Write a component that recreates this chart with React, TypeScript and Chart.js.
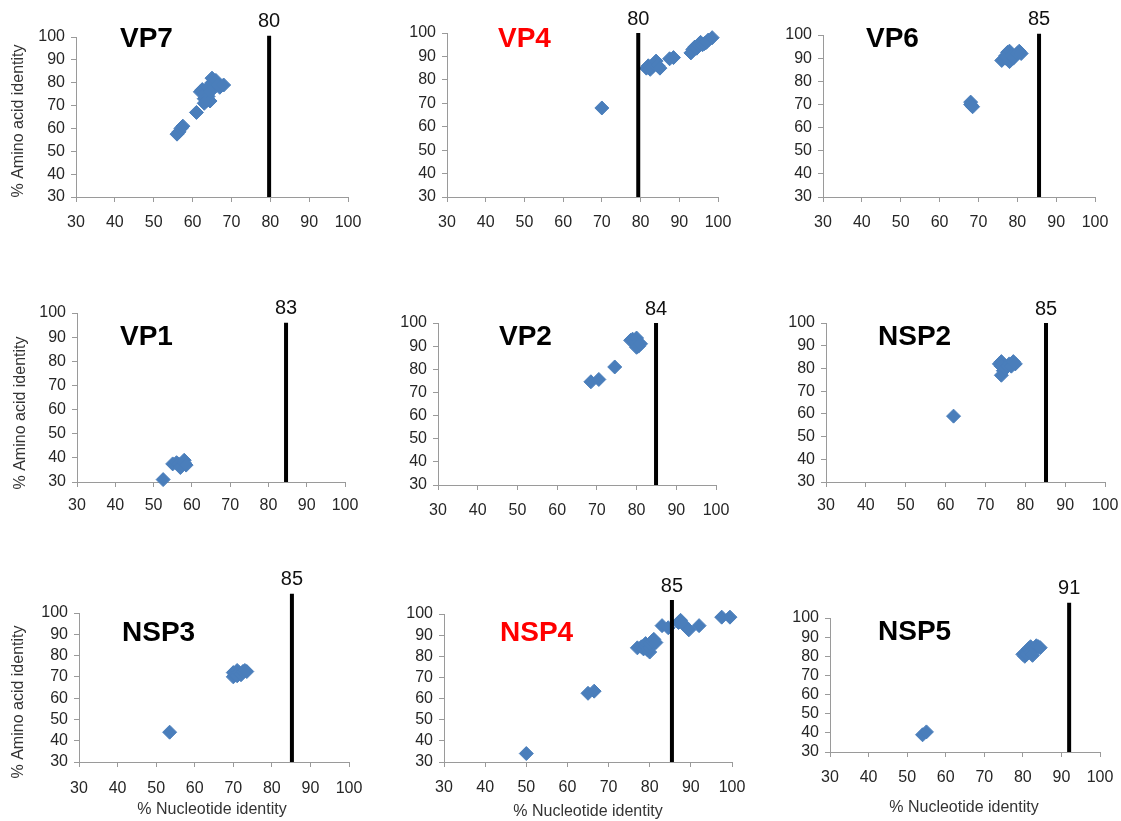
import React, { useEffect, useRef } from "react";
import { Chart, registerables } from "chart.js";

Chart.register(...registerables);

const FONT = '"Liberation Sans", Arial, Helvetica, sans-serif';

// ---- data: % nucleotide identity (x) and % amino acid identity (y) ----
const VP7_NT = [56, 56.5, 57, 57.5, 61, 62, 62.5, 63, 63, 63.5, 64, 64, 64.5, 65, 65, 65.5, 66, 66.5, 67, 68, 63, 64.5];
const VP7_AA = [57.5, 58.5, 60, 61, 67, 76, 77, 75, 73, 72, 78, 74, 72, 80, 82, 79, 81, 79, 78, 79, 71, 76];

const VP4_NT = [70, 81.5, 82, 82.5, 83, 83.5, 84, 84.5, 85, 87.5, 88.5, 93, 93.5, 94, 94.5, 95, 95.5, 96, 96.5, 97, 97.5, 98.5];
const VP4_AA = [68, 85, 86, 84.5, 85.5, 86.5, 88, 86, 85, 89, 89.5, 91.5, 93, 94, 93.5, 95, 96, 95, 95.5, 96, 97, 98];

const VP6_NT = [68, 68, 68.5, 76, 77, 77, 77.5, 78, 78, 78.5, 79, 80, 80.5, 81];
const VP6_AA = [71, 70, 69, 89, 90, 91, 92.5, 93, 88.5, 91, 90, 92, 93, 92];

const VP1_NT = [52.5, 55, 56, 56.5, 57, 57, 58, 58, 58.5];
const VP1_AA = [31, 37.5, 38, 37.5, 37, 36, 38, 39, 37];

const VP2_NT = [68.5, 70.5, 74.5, 78.5, 79, 79.5, 79.5, 80, 80, 80.5, 80, 81];
const VP2_AA = [74.6, 75.6, 81, 92.5, 93, 92, 91.5, 93.5, 91, 90, 89.5, 91];

const NSP2_NT = [62, 73.5, 74, 74, 74, 74.5, 75, 75.5, 76, 76.5, 77, 77.5];
const NSP2_AA = [59, 82, 83, 81, 77, 79, 80, 81, 82, 81, 83, 82];

const NSP3_NT = [53.5, 70, 70, 70.5, 71, 71, 71.5, 72, 72.5, 73, 73.5];
const NSP3_AA = [44, 70, 72, 71, 73, 70.5, 72, 71, 72.5, 73, 72.5];

const NSP4_NT = [50, 65, 66.5, 77, 78, 78.5, 79, 79, 79.5, 80, 80, 80, 80.5, 81, 81.5, 83, 84.5, 87, 87.5, 88, 89.5, 92, 97.5, 99.5];
const NSP4_AA = [34, 62.5, 63.5, 84, 84.5, 83.5, 85, 86, 83, 82, 84, 86, 87, 88, 86.5, 94.5, 93.5, 96, 97, 95.5, 92.5, 94.5, 98.5, 98.5];

const NSP5_NT = [54, 55, 80, 80.5, 81, 81, 81.5, 82, 82, 82.5, 82.5, 83, 83.5, 84, 84.5];
const NSP5_AA = [39, 40.5, 81, 80, 82, 81, 84, 85, 82, 83, 80.5, 84, 85.5, 85, 84.5];

const GENES = ["VP7", "VP4", "VP6", "VP1", "VP2", "NSP2", "NSP3", "NSP4", "NSP5"];
const THRESH_LABELS = ["80", "80", "85", "83", "84", "85", "85", "85", "91"];
const THRESH_POS = [79.7, 79.4, 85.6, 84.6, 84.9, 85.2, 85.2, 85.4, 92];
const THRESH_TOP = [100.5, 100, 100.5, 96, 100, 100, 109, 106.6, 108];
const AXIS_TICKS = [30, 40, 50, 60, 70, 80, 90, 100];
const Y_TITLE = "% Amino acid identity";
const X_TITLE = "% Nucleotide identity";

const NT = [VP7_NT, VP4_NT, VP6_NT, VP1_NT, VP2_NT, NSP2_NT, NSP3_NT, NSP4_NT, NSP5_NT];
const AA = [VP7_AA, VP4_AA, VP6_AA, VP1_AA, VP2_AA, NSP2_AA, NSP3_AA, NSP4_AA, NSP5_AA];

// ---- layout (page pixel coordinates) ----
type Layout = {
  plot: [number, number, number, number]; // left, top, right, bottom
  title: [number, number];
  color: string;
  xPad: number;
  yTitle?: [number, number];
  xTitle?: [number, number];
};

const LAYOUT: Layout[] = [
  { plot: [76, 37, 348, 197], title: [120, 39], color: "#000", xPad: 11, yTitle: [19, 121] },
  { plot: [447, 33, 718, 197], title: [498, 39], color: "#ff0000", xPad: 11 },
  { plot: [823, 35, 1095, 197], title: [866, 39], color: "#000", xPad: 11 },
  { plot: [77, 313, 345, 482], title: [120, 337], color: "#000", xPad: 9, yTitle: [21, 413] },
  { plot: [438, 323, 716, 485], title: [499, 337], color: "#000", xPad: 11 },
  { plot: [826, 323, 1105, 482], title: [878, 337], color: "#000", xPad: 9 },
  { plot: [79, 613, 349, 762], title: [122, 633], color: "#000", xPad: 12, yTitle: [19, 702], xTitle: [212, 810] },
  { plot: [444, 614, 732, 762], title: [500, 633], color: "#ff0000", xPad: 11, xTitle: [588, 812] },
  { plot: [830, 618, 1100, 752], title: [878, 632], color: "#000", xPad: 11, xTitle: [964, 808] },
];

const PAD_L = 76;
const PAD_T = 60;
const PAD_R = 26;
const PAD_B = 66;
const Y_W = 40;
const X_H = 50;

function Panel({ idx }: { idx: number }) {
  const ref = useRef<HTMLCanvasElement>(null);
  const L = LAYOUT[idx];
  const box = {
    left: L.plot[0] - PAD_L,
    top: L.plot[1] - PAD_T,
    width: L.plot[2] - L.plot[0] + PAD_L + PAD_R,
    height: L.plot[3] - L.plot[1] + PAD_T + PAD_B,
  };

  useEffect(() => {
    if (!ref.current) return;
    const overlay = {
      id: "overlay" + idx,
      afterDraw(chart: any) {
        const ctx = chart.ctx as CanvasRenderingContext2D;
        const xs = chart.scales.x;
        const ys = chart.scales.y;
        ctx.save();
        // threshold label
        ctx.font = `20px ${FONT}`;
        ctx.fillStyle = "#111";
        ctx.textAlign = "center";
        ctx.textBaseline = "bottom";
        ctx.fillText(THRESH_LABELS[idx], xs.getPixelForValue(THRESH_POS[idx]), ys.getPixelForValue(THRESH_TOP[idx]) - 4);
        // gene title
        ctx.font = `bold 28px ${FONT}`;
        ctx.fillStyle = L.color;
        ctx.textAlign = "left";
        ctx.textBaseline = "middle";
        ctx.fillText(GENES[idx], L.title[0] - box.left, L.title[1] - box.top);
        // axis titles
        ctx.font = `16px ${FONT}`;
        ctx.fillStyle = "#333";
        ctx.textAlign = "center";
        ctx.textBaseline = "middle";
        if (L.xTitle) {
          ctx.fillText(X_TITLE, L.xTitle[0] - box.left, L.xTitle[1] - box.top);
        }
        if (L.yTitle) {
          ctx.translate(L.yTitle[0] - box.left, L.yTitle[1] - box.top);
          ctx.rotate(-Math.PI / 2);
          ctx.fillText(Y_TITLE, 0, 0);
        }
        ctx.restore();
      },
    };

    const points = NT[idx].map((x, i) => ({ x, y: AA[idx][i] }));
    const tickFont = { family: FONT, size: 16 };
    const chart = new Chart(ref.current, {
      type: "scatter",
      data: {
        datasets: [
          {
            type: "line",
            data: [
              { x: THRESH_POS[idx], y: 30 },
              { x: THRESH_POS[idx], y: THRESH_TOP[idx] },
            ],
            borderColor: "#000",
            borderWidth: 4,
            borderCapStyle: "butt",
            pointRadius: 0,
            clip: false,
            order: 0,
          } as any,
          {
            data: points,
            pointStyle: "rectRot",
            pointRadius: 7,
            backgroundColor: "#4A7EBB",
            borderColor: "#4A7EBB",
            borderWidth: 1,
            clip: false,
            order: 1,
          } as any,
        ],
      },
      options: {
        animation: false,
        responsive: true,
        maintainAspectRatio: false,
        events: [],
        layout: {
          padding: { left: PAD_L - Y_W, top: PAD_T, right: PAD_R, bottom: PAD_B - X_H },
        },
        plugins: { legend: { display: false }, tooltip: { enabled: false } },
        scales: {
          x: {
            type: "linear",
            min: 30,
            max: 100,
            afterBuildTicks: (s: any) => {
              s.ticks = AXIS_TICKS.map((v) => ({ value: v }));
            },
            ticks: { font: tickFont, color: "#262626", padding: L.xPad, maxRotation: 0, autoSkip: false },
            grid: { drawOnChartArea: false, color: "#9a9a9a", tickLength: 5 },
            border: { color: "#9a9a9a", width: 1 },
            afterFit: (s: any) => {
              s.height = X_H;
            },
          },
          y: {
            type: "linear",
            min: 30,
            max: 100,
            afterBuildTicks: (s: any) => {
              s.ticks = AXIS_TICKS.map((v) => ({ value: v }));
            },
            ticks: { font: tickFont, color: "#262626", padding: 6, autoSkip: false },
            grid: { drawOnChartArea: false, color: "#9a9a9a", tickLength: 5 },
            border: { color: "#9a9a9a", width: 1 },
            afterFit: (s: any) => {
              s.width = Y_W;
            },
          },
        },
      } as any,
      plugins: [overlay],
    });
    return () => chart.destroy();
  }, [idx]);

  return (
    <div
      style={{
        position: "absolute",
        left: box.left,
        top: box.top,
        width: box.width,
        height: box.height,
      }}
    >
      <canvas ref={ref} style={{ width: "100%", height: "100%" }} />
    </div>
  );
}

export default function App() {
  return (
    <div
      style={{
        position: "absolute",
        left: 0,
        top: 0,
        width: 1121,
        height: 821,
        overflow: "hidden",
        background: "#fff",
      }}
    >
      {GENES.map((_, i) => (
        <Panel key={i} idx={i} />
      ))}
    </div>
  );
}
